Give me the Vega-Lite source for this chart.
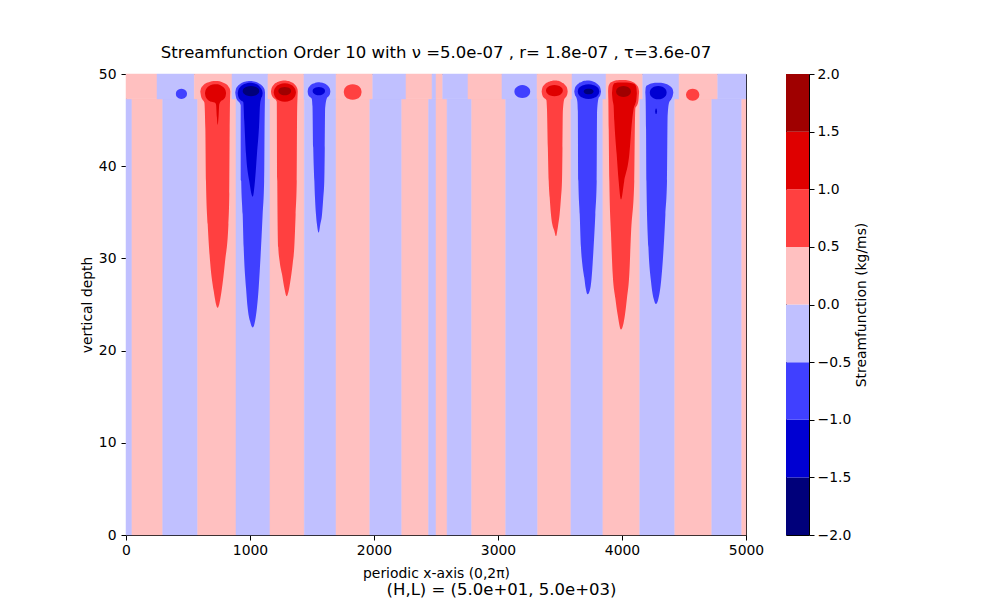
{
  "$schema": "https://vega.github.io/schema/vega-lite/v6.json",
  "background": "white",
  "padding": {"left": 79, "top": 44, "right": 5, "bottom": 5},
  "bounds": "flush",
  "spacing": 40,
  "title": {
    "text": "(H,L) = (5.0e+01, 5.0e+03)",
    "orient": "bottom",
    "anchor": "middle",
    "frame": "bounds",
    "dx": 27,
    "offset": 1,
    "fontSize": 16.5,
    "fontWeight": "normal",
    "color": "black"
  },
  "datasets": {
    "strips": [
      {"x0": 0, "x1": 48, "d0": 0, "d1": 47.3, "band": "n1"},
      {"x0": 48, "x1": 296, "d0": 0, "d1": 47.3, "band": "p1"},
      {"x0": 296, "x1": 578, "d0": 0, "d1": 47.3, "band": "n1"},
      {"x0": 578, "x1": 887, "d0": 0, "d1": 47.3, "band": "p1"},
      {"x0": 887, "x1": 1161, "d0": 0, "d1": 47.3, "band": "n1"},
      {"x0": 1161, "x1": 1438, "d0": 0, "d1": 47.3, "band": "p1"},
      {"x0": 1438, "x1": 1694, "d0": 0, "d1": 47.3, "band": "n1"},
      {"x0": 1694, "x1": 1966, "d0": 0, "d1": 47.3, "band": "p1"},
      {"x0": 1966, "x1": 2224, "d0": 0, "d1": 47.3, "band": "n1"},
      {"x0": 2224, "x1": 2440, "d0": 0, "d1": 47.3, "band": "p1"},
      {"x0": 2440, "x1": 2500, "d0": 0, "d1": 47.3, "band": "n1"},
      {"x0": 2500, "x1": 2589, "d0": 0, "d1": 47.3, "band": "p1"},
      {"x0": 2589, "x1": 2788, "d0": 0, "d1": 47.3, "band": "n1"},
      {"x0": 2788, "x1": 3062, "d0": 0, "d1": 47.3, "band": "p1"},
      {"x0": 3062, "x1": 3320, "d0": 0, "d1": 47.3, "band": "n1"},
      {"x0": 3320, "x1": 3588, "d0": 0, "d1": 47.3, "band": "p1"},
      {"x0": 3588, "x1": 3846, "d0": 0, "d1": 47.3, "band": "n1"},
      {"x0": 3846, "x1": 4143, "d0": 0, "d1": 47.3, "band": "p1"},
      {"x0": 4143, "x1": 4426, "d0": 0, "d1": 47.3, "band": "n1"},
      {"x0": 4426, "x1": 4724, "d0": 0, "d1": 47.3, "band": "p1"},
      {"x0": 4724, "x1": 4966, "d0": 0, "d1": 47.3, "band": "n1"},
      {"x0": 4966, "x1": 5000, "d0": 0, "d1": 47.3, "band": "p1"},
      {"x0": 0, "x1": 250, "d0": 47.3, "d1": 50, "band": "p1"},
      {"x0": 250, "x1": 551, "d0": 47.3, "d1": 50, "band": "n1"},
      {"x0": 551, "x1": 855, "d0": 47.3, "d1": 50, "band": "p1"},
      {"x0": 855, "x1": 1145, "d0": 47.3, "d1": 50, "band": "n1"},
      {"x0": 1145, "x1": 1435, "d0": 47.3, "d1": 50, "band": "p1"},
      {"x0": 1435, "x1": 1694, "d0": 47.3, "d1": 50, "band": "n1"},
      {"x0": 1694, "x1": 1990, "d0": 47.3, "d1": 50, "band": "p1"},
      {"x0": 1990, "x1": 2258, "d0": 47.3, "d1": 50, "band": "n1"},
      {"x0": 2258, "x1": 2468, "d0": 47.3, "d1": 50, "band": "p1"},
      {"x0": 2468, "x1": 2500, "d0": 47.3, "d1": 50, "band": "n1"},
      {"x0": 2500, "x1": 2554, "d0": 47.3, "d1": 50, "band": "p1"},
      {"x0": 2554, "x1": 2758, "d0": 47.3, "d1": 50, "band": "n1"},
      {"x0": 2758, "x1": 3032, "d0": 47.3, "d1": 50, "band": "p1"},
      {"x0": 3032, "x1": 3315, "d0": 47.3, "d1": 50, "band": "n1"},
      {"x0": 3315, "x1": 3597, "d0": 47.3, "d1": 50, "band": "p1"},
      {"x0": 3597, "x1": 3871, "d0": 47.3, "d1": 50, "band": "n1"},
      {"x0": 3871, "x1": 4167, "d0": 47.3, "d1": 50, "band": "p1"},
      {"x0": 4167, "x1": 4460, "d0": 47.3, "d1": 50, "band": "n1"},
      {"x0": 4460, "x1": 4772, "d0": 47.3, "d1": 50, "band": "p1"},
      {"x0": 4772, "x1": 5000, "d0": 47.3, "d1": 50, "band": "n1"}
    ],
    "blobs": [
      {"id": "A2", "band": "p2", "x": 599, "lo": 48.1, "hi": 48.1},
      {"id": "A2", "band": "p2", "x": 605, "lo": 47.6, "hi": 48.46},
      {"id": "A2", "band": "p2", "x": 618, "lo": 47.2, "hi": 48.71},
      {"id": "A2", "band": "p2", "x": 632, "lo": 46.9, "hi": 48.88},
      {"id": "A2", "band": "p2", "x": 640, "lo": 44.0, "hi": 48.96},
      {"id": "A2", "band": "p2", "x": 645, "lo": 38.4, "hi": 49.0},
      {"id": "A2", "band": "p2", "x": 659, "lo": 33.7, "hi": 49.08},
      {"id": "A2", "band": "p2", "x": 678, "lo": 29.7, "hi": 49.17},
      {"id": "A2", "band": "p2", "x": 707, "lo": 26.5, "hi": 49.23},
      {"id": "A2", "band": "p2", "x": 739, "lo": 24.65, "hi": 49.23},
      {"id": "A2", "band": "p2", "x": 771, "lo": 26.5, "hi": 49.13},
      {"id": "A2", "band": "p2", "x": 799, "lo": 29.7, "hi": 48.96},
      {"id": "A2", "band": "p2", "x": 826, "lo": 33.7, "hi": 48.65},
      {"id": "A2", "band": "p2", "x": 833, "lo": 37.0, "hi": 48.5},
      {"id": "A2", "band": "p2", "x": 836, "lo": 44.0, "hi": 48.42},
      {"id": "A2", "band": "p2", "x": 838, "lo": 46.5, "hi": 48.35},
      {"id": "A2", "band": "p2", "x": 841, "lo": 48.1, "hi": 48.1},

      {"id": "A3", "band": "p3", "x": 637, "lo": 47.9, "hi": 47.9},
      {"id": "A3", "band": "p3", "x": 641, "lo": 47.6, "hi": 48.2},
      {"id": "A3", "band": "p3", "x": 654, "lo": 47.3, "hi": 48.5},
      {"id": "A3", "band": "p3", "x": 680, "lo": 47.03, "hi": 48.77},
      {"id": "A3", "band": "p3", "x": 715, "lo": 46.9, "hi": 48.9},
      {"id": "A3", "band": "p3", "x": 726, "lo": 46.7, "hi": 48.9},
      {"id": "A3", "band": "p3", "x": 733, "lo": 45.3, "hi": 48.89},
      {"id": "A3", "band": "p3", "x": 739, "lo": 44.5, "hi": 48.88},
      {"id": "A3", "band": "p3", "x": 746, "lo": 45.3, "hi": 48.86},
      {"id": "A3", "band": "p3", "x": 752, "lo": 46.7, "hi": 48.84},
      {"id": "A3", "band": "p3", "x": 765, "lo": 47.04, "hi": 48.76},
      {"id": "A3", "band": "p3", "x": 790, "lo": 47.3, "hi": 48.5},
      {"id": "A3", "band": "p3", "x": 803, "lo": 47.6, "hi": 48.2},
      {"id": "A3", "band": "p3", "x": 807, "lo": 47.9, "hi": 47.9},

      {"id": "E2", "band": "n2", "x": 402, "lo": 47.85, "hi": 47.85},
      {"id": "E2", "band": "n2", "x": 404, "lo": 47.68, "hi": 48.02},
      {"id": "E2", "band": "n2", "x": 411, "lo": 47.52, "hi": 48.18},
      {"id": "E2", "band": "n2", "x": 424, "lo": 47.37, "hi": 48.33},
      {"id": "E2", "band": "n2", "x": 447, "lo": 47.3, "hi": 48.4},
      {"id": "E2", "band": "n2", "x": 470, "lo": 47.37, "hi": 48.33},
      {"id": "E2", "band": "n2", "x": 483, "lo": 47.52, "hi": 48.18},
      {"id": "E2", "band": "n2", "x": 490, "lo": 47.68, "hi": 48.02},
      {"id": "E2", "band": "n2", "x": 492, "lo": 47.85, "hi": 47.85},

      {"id": "B2", "band": "n2", "x": 881, "lo": 48.0, "hi": 48.0},
      {"id": "B2", "band": "n2", "x": 886, "lo": 47.55, "hi": 48.35},
      {"id": "B2", "band": "n2", "x": 898, "lo": 47.15, "hi": 48.64},
      {"id": "B2", "band": "n2", "x": 915, "lo": 46.9, "hi": 48.86},
      {"id": "B2", "band": "n2", "x": 925, "lo": 46.6, "hi": 48.96},
      {"id": "B2", "band": "n2", "x": 929, "lo": 38.4, "hi": 48.99},
      {"id": "B2", "band": "n2", "x": 941, "lo": 34.8, "hi": 49.07},
      {"id": "B2", "band": "n2", "x": 949, "lo": 31.2, "hi": 49.12},
      {"id": "B2", "band": "n2", "x": 968, "lo": 26.8, "hi": 49.19},
      {"id": "B2", "band": "n2", "x": 981, "lo": 24.65, "hi": 49.22},
      {"id": "B2", "band": "n2", "x": 1000, "lo": 23.2, "hi": 49.24},
      {"id": "B2", "band": "n2", "x": 1022, "lo": 22.5, "hi": 49.22},
      {"id": "B2", "band": "n2", "x": 1042, "lo": 23.3, "hi": 49.17},
      {"id": "B2", "band": "n2", "x": 1056, "lo": 24.65, "hi": 49.1},
      {"id": "B2", "band": "n2", "x": 1070, "lo": 26.8, "hi": 49.01},
      {"id": "B2", "band": "n2", "x": 1089, "lo": 31.2, "hi": 48.84},
      {"id": "B2", "band": "n2", "x": 1102, "lo": 34.8, "hi": 48.67},
      {"id": "B2", "band": "n2", "x": 1114, "lo": 38.4, "hi": 48.42},
      {"id": "B2", "band": "n2", "x": 1118, "lo": 45.0, "hi": 48.28},
      {"id": "B2", "band": "n2", "x": 1121, "lo": 48.0, "hi": 48.0},

      {"id": "B3", "band": "n3", "x": 901, "lo": 47.9, "hi": 47.9},
      {"id": "B3", "band": "n3", "x": 906, "lo": 47.54, "hi": 48.26},
      {"id": "B3", "band": "n3", "x": 921, "lo": 47.21, "hi": 48.59},
      {"id": "B3", "band": "n3", "x": 946, "lo": 46.94, "hi": 48.86},
      {"id": "B3", "band": "n3", "x": 954, "lo": 44.9, "hi": 48.91},
      {"id": "B3", "band": "n3", "x": 968, "lo": 41.3, "hi": 48.98},
      {"id": "B3", "band": "n3", "x": 994, "lo": 38.4, "hi": 49.04},
      {"id": "B3", "band": "n3", "x": 1022, "lo": 36.7, "hi": 49.03},
      {"id": "B3", "band": "n3", "x": 1040, "lo": 38.4, "hi": 48.98},
      {"id": "B3", "band": "n3", "x": 1056, "lo": 41.3, "hi": 48.88},
      {"id": "B3", "band": "n3", "x": 1075, "lo": 44.9, "hi": 48.68},
      {"id": "B3", "band": "n3", "x": 1080, "lo": 46.5, "hi": 48.6},
      {"id": "B3", "band": "n3", "x": 1090, "lo": 47.36, "hi": 48.44},
      {"id": "B3", "band": "n3", "x": 1099, "lo": 47.64, "hi": 48.16},
      {"id": "B3", "band": "n3", "x": 1102, "lo": 47.9, "hi": 47.9},

      {"id": "B4", "band": "n4", "x": 941, "lo": 48.15, "hi": 48.15},
      {"id": "B4", "band": "n4", "x": 944, "lo": 47.98, "hi": 48.32},
      {"id": "B4", "band": "n4", "x": 954, "lo": 47.82, "hi": 48.48},
      {"id": "B4", "band": "n4", "x": 974, "lo": 47.67, "hi": 48.63},
      {"id": "B4", "band": "n4", "x": 1008, "lo": 47.6, "hi": 48.7},
      {"id": "B4", "band": "n4", "x": 1042, "lo": 47.67, "hi": 48.63},
      {"id": "B4", "band": "n4", "x": 1062, "lo": 47.82, "hi": 48.48},
      {"id": "B4", "band": "n4", "x": 1072, "lo": 47.98, "hi": 48.32},
      {"id": "B4", "band": "n4", "x": 1075, "lo": 48.15, "hi": 48.15},

      {"id": "C2", "band": "p2", "x": 1169, "lo": 48.1, "hi": 48.1},
      {"id": "C2", "band": "p2", "x": 1174, "lo": 47.74, "hi": 48.46},
      {"id": "C2", "band": "p2", "x": 1190, "lo": 47.39, "hi": 48.81},
      {"id": "C2", "band": "p2", "x": 1210, "lo": 47.16, "hi": 49.04},
      {"id": "C2", "band": "p2", "x": 1216, "lo": 47.0, "hi": 49.09},
      {"id": "C2", "band": "p2", "x": 1220, "lo": 38.4, "hi": 49.12},
      {"id": "C2", "band": "p2", "x": 1228, "lo": 31.2, "hi": 49.17},
      {"id": "C2", "band": "p2", "x": 1239, "lo": 29.7, "hi": 49.22},
      {"id": "C2", "band": "p2", "x": 1258, "lo": 28.3, "hi": 49.28},
      {"id": "C2", "band": "p2", "x": 1277, "lo": 26.8, "hi": 49.3},
      {"id": "C2", "band": "p2", "x": 1296, "lo": 25.9, "hi": 49.28},
      {"id": "C2", "band": "p2", "x": 1312, "lo": 26.5, "hi": 49.23},
      {"id": "C2", "band": "p2", "x": 1325, "lo": 27.5, "hi": 49.16},
      {"id": "C2", "band": "p2", "x": 1344, "lo": 29.4, "hi": 49.04},
      {"id": "C2", "band": "p2", "x": 1357, "lo": 31.2, "hi": 48.91},
      {"id": "C2", "band": "p2", "x": 1368, "lo": 34.8, "hi": 48.75},
      {"id": "C2", "band": "p2", "x": 1377, "lo": 38.4, "hi": 48.55},
      {"id": "C2", "band": "p2", "x": 1380, "lo": 46.0, "hi": 48.46},
      {"id": "C2", "band": "p2", "x": 1383, "lo": 47.4, "hi": 48.35},
      {"id": "C2", "band": "p2", "x": 1385, "lo": 48.1, "hi": 48.1},

      {"id": "C3", "band": "p3", "x": 1191, "lo": 48.0, "hi": 48.0},
      {"id": "C3", "band": "p3", "x": 1196, "lo": 47.69, "hi": 48.31},
      {"id": "C3", "band": "p3", "x": 1209, "lo": 47.4, "hi": 48.6},
      {"id": "C3", "band": "p3", "x": 1236, "lo": 47.13, "hi": 48.87},
      {"id": "C3", "band": "p3", "x": 1281, "lo": 47.0, "hi": 49.0},
      {"id": "C3", "band": "p3", "x": 1326, "lo": 47.13, "hi": 48.87},
      {"id": "C3", "band": "p3", "x": 1353, "lo": 47.4, "hi": 48.6},
      {"id": "C3", "band": "p3", "x": 1366, "lo": 47.69, "hi": 48.31},
      {"id": "C3", "band": "p3", "x": 1371, "lo": 48.0, "hi": 48.0},

      {"id": "C4", "band": "p4", "x": 1228, "lo": 48.15, "hi": 48.15},
      {"id": "C4", "band": "p4", "x": 1231, "lo": 48.01, "hi": 48.29},
      {"id": "C4", "band": "p4", "x": 1238, "lo": 47.88, "hi": 48.42},
      {"id": "C4", "band": "p4", "x": 1254, "lo": 47.76, "hi": 48.54},
      {"id": "C4", "band": "p4", "x": 1280, "lo": 47.7, "hi": 48.6},
      {"id": "C4", "band": "p4", "x": 1306, "lo": 47.76, "hi": 48.54},
      {"id": "C4", "band": "p4", "x": 1322, "lo": 47.88, "hi": 48.42},
      {"id": "C4", "band": "p4", "x": 1329, "lo": 48.01, "hi": 48.29},
      {"id": "C4", "band": "p4", "x": 1332, "lo": 48.15, "hi": 48.15},

      {"id": "D2", "band": "n2", "x": 1465, "lo": 48.1, "hi": 48.1},
      {"id": "D2", "band": "n2", "x": 1469, "lo": 47.78, "hi": 48.43},
      {"id": "D2", "band": "n2", "x": 1481, "lo": 47.52, "hi": 48.68},
      {"id": "D2", "band": "n2", "x": 1498, "lo": 47.32, "hi": 48.88},
      {"id": "D2", "band": "n2", "x": 1504, "lo": 46.5, "hi": 48.93},
      {"id": "D2", "band": "n2", "x": 1510, "lo": 42.0, "hi": 48.96},
      {"id": "D2", "band": "n2", "x": 1519, "lo": 38.4, "hi": 49.0},
      {"id": "D2", "band": "n2", "x": 1524, "lo": 36.6, "hi": 49.03},
      {"id": "D2", "band": "n2", "x": 1532, "lo": 34.8, "hi": 49.07},
      {"id": "D2", "band": "n2", "x": 1540, "lo": 33.7, "hi": 49.09},
      {"id": "D2", "band": "n2", "x": 1554, "lo": 32.8, "hi": 49.1},
      {"id": "D2", "band": "n2", "x": 1567, "lo": 33.7, "hi": 49.09},
      {"id": "D2", "band": "n2", "x": 1581, "lo": 34.8, "hi": 49.06},
      {"id": "D2", "band": "n2", "x": 1591, "lo": 36.6, "hi": 49.03},
      {"id": "D2", "band": "n2", "x": 1599, "lo": 38.4, "hi": 48.98},
      {"id": "D2", "band": "n2", "x": 1603, "lo": 42.0, "hi": 48.96},
      {"id": "D2", "band": "n2", "x": 1606, "lo": 46.3, "hi": 48.94},
      {"id": "D2", "band": "n2", "x": 1620, "lo": 47.38, "hi": 48.82},
      {"id": "D2", "band": "n2", "x": 1636, "lo": 47.61, "hi": 48.59},
      {"id": "D2", "band": "n2", "x": 1645, "lo": 47.85, "hi": 48.35},
      {"id": "D2", "band": "n2", "x": 1648, "lo": 48.1, "hi": 48.1},

      {"id": "D3", "band": "n3", "x": 1505, "lo": 48.15, "hi": 48.15},
      {"id": "D3", "band": "n3", "x": 1507, "lo": 48.01, "hi": 48.29},
      {"id": "D3", "band": "n3", "x": 1515, "lo": 47.88, "hi": 48.42},
      {"id": "D3", "band": "n3", "x": 1530, "lo": 47.76, "hi": 48.54},
      {"id": "D3", "band": "n3", "x": 1555, "lo": 47.7, "hi": 48.6},
      {"id": "D3", "band": "n3", "x": 1580, "lo": 47.76, "hi": 48.54},
      {"id": "D3", "band": "n3", "x": 1595, "lo": 47.88, "hi": 48.42},
      {"id": "D3", "band": "n3", "x": 1603, "lo": 48.01, "hi": 48.29},
      {"id": "D3", "band": "n3", "x": 1605, "lo": 48.15, "hi": 48.15},

      {"id": "F2", "band": "p2", "x": 1756, "lo": 48.05, "hi": 48.05},
      {"id": "F2", "band": "p2", "x": 1760, "lo": 47.79, "hi": 48.32},
      {"id": "F2", "band": "p2", "x": 1770, "lo": 47.54, "hi": 48.56},
      {"id": "F2", "band": "p2", "x": 1792, "lo": 47.31, "hi": 48.79},
      {"id": "F2", "band": "p2", "x": 1828, "lo": 47.2, "hi": 48.9},
      {"id": "F2", "band": "p2", "x": 1864, "lo": 47.31, "hi": 48.79},
      {"id": "F2", "band": "p2", "x": 1886, "lo": 47.54, "hi": 48.56},
      {"id": "F2", "band": "p2", "x": 1896, "lo": 47.79, "hi": 48.32},
      {"id": "F2", "band": "p2", "x": 1900, "lo": 48.05, "hi": 48.05},

      {"id": "G2", "band": "n2", "x": 3132, "lo": 48.1, "hi": 48.1},
      {"id": "G2", "band": "n2", "x": 3135, "lo": 47.88, "hi": 48.32},
      {"id": "G2", "band": "n2", "x": 3145, "lo": 47.68, "hi": 48.52},
      {"id": "G2", "band": "n2", "x": 3164, "lo": 47.49, "hi": 48.71},
      {"id": "G2", "band": "n2", "x": 3196, "lo": 47.4, "hi": 48.8},
      {"id": "G2", "band": "n2", "x": 3228, "lo": 47.49, "hi": 48.71},
      {"id": "G2", "band": "n2", "x": 3247, "lo": 47.68, "hi": 48.52},
      {"id": "G2", "band": "n2", "x": 3257, "lo": 47.88, "hi": 48.32},
      {"id": "G2", "band": "n2", "x": 3260, "lo": 48.1, "hi": 48.1},

      {"id": "H2", "band": "p2", "x": 3352, "lo": 48.1, "hi": 48.1},
      {"id": "H2", "band": "p2", "x": 3357, "lo": 47.73, "hi": 48.47},
      {"id": "H2", "band": "p2", "x": 3372, "lo": 47.4, "hi": 48.8},
      {"id": "H2", "band": "p2", "x": 3390, "lo": 47.18, "hi": 49.02},
      {"id": "H2", "band": "p2", "x": 3395, "lo": 46.2, "hi": 49.07},
      {"id": "H2", "band": "p2", "x": 3402, "lo": 42.0, "hi": 49.11},
      {"id": "H2", "band": "p2", "x": 3409, "lo": 38.4, "hi": 49.15},
      {"id": "H2", "band": "p2", "x": 3417, "lo": 36.6, "hi": 49.18},
      {"id": "H2", "band": "p2", "x": 3427, "lo": 34.8, "hi": 49.24},
      {"id": "H2", "band": "p2", "x": 3438, "lo": 33.7, "hi": 49.28},
      {"id": "H2", "band": "p2", "x": 3454, "lo": 33.0, "hi": 49.3},
      {"id": "H2", "band": "p2", "x": 3468, "lo": 32.4, "hi": 49.3},
      {"id": "H2", "band": "p2", "x": 3478, "lo": 33.0, "hi": 49.28},
      {"id": "H2", "band": "p2", "x": 3486, "lo": 33.7, "hi": 49.26},
      {"id": "H2", "band": "p2", "x": 3497, "lo": 34.8, "hi": 49.21},
      {"id": "H2", "band": "p2", "x": 3508, "lo": 36.6, "hi": 49.14},
      {"id": "H2", "band": "p2", "x": 3516, "lo": 38.4, "hi": 49.07},
      {"id": "H2", "band": "p2", "x": 3520, "lo": 42.0, "hi": 49.03},
      {"id": "H2", "band": "p2", "x": 3523, "lo": 46.0, "hi": 49.03},
      {"id": "H2", "band": "p2", "x": 3535, "lo": 47.3, "hi": 48.9},
      {"id": "H2", "band": "p2", "x": 3550, "lo": 47.54, "hi": 48.66},
      {"id": "H2", "band": "p2", "x": 3558, "lo": 47.77, "hi": 48.43},
      {"id": "H2", "band": "p2", "x": 3562, "lo": 48.1, "hi": 48.1},

      {"id": "H3", "band": "p3", "x": 3387, "lo": 48.2, "hi": 48.2},
      {"id": "H3", "band": "p3", "x": 3390, "lo": 48.01, "hi": 48.39},
      {"id": "H3", "band": "p3", "x": 3401, "lo": 47.84, "hi": 48.56},
      {"id": "H3", "band": "p3", "x": 3421, "lo": 47.68, "hi": 48.72},
      {"id": "H3", "band": "p3", "x": 3455, "lo": 47.6, "hi": 48.8},
      {"id": "H3", "band": "p3", "x": 3489, "lo": 47.68, "hi": 48.72},
      {"id": "H3", "band": "p3", "x": 3509, "lo": 47.84, "hi": 48.56},
      {"id": "H3", "band": "p3", "x": 3520, "lo": 48.01, "hi": 48.39},
      {"id": "H3", "band": "p3", "x": 3523, "lo": 48.2, "hi": 48.2},

      {"id": "I2", "band": "n2", "x": 3615, "lo": 48.1, "hi": 48.1},
      {"id": "I2", "band": "n2", "x": 3620, "lo": 47.74, "hi": 48.46},
      {"id": "I2", "band": "n2", "x": 3632, "lo": 47.45, "hi": 48.75},
      {"id": "I2", "band": "n2", "x": 3640, "lo": 47.0, "hi": 48.87},
      {"id": "I2", "band": "n2", "x": 3644, "lo": 46.0, "hi": 48.92},
      {"id": "I2", "band": "n2", "x": 3648, "lo": 38.4, "hi": 48.95},
      {"id": "I2", "band": "n2", "x": 3659, "lo": 34.8, "hi": 49.07},
      {"id": "I2", "band": "n2", "x": 3669, "lo": 31.2, "hi": 49.1},
      {"id": "I2", "band": "n2", "x": 3680, "lo": 29.4, "hi": 49.19},
      {"id": "I2", "band": "n2", "x": 3696, "lo": 27.9, "hi": 49.26},
      {"id": "I2", "band": "n2", "x": 3707, "lo": 26.8, "hi": 49.28},
      {"id": "I2", "band": "n2", "x": 3723, "lo": 26.1, "hi": 49.3},
      {"id": "I2", "band": "n2", "x": 3745, "lo": 26.8, "hi": 49.28},
      {"id": "I2", "band": "n2", "x": 3755, "lo": 27.9, "hi": 49.25},
      {"id": "I2", "band": "n2", "x": 3763, "lo": 29.4, "hi": 49.21},
      {"id": "I2", "band": "n2", "x": 3771, "lo": 31.2, "hi": 49.16},
      {"id": "I2", "band": "n2", "x": 3785, "lo": 34.8, "hi": 49.08},
      {"id": "I2", "band": "n2", "x": 3796, "lo": 38.4, "hi": 48.98},
      {"id": "I2", "band": "n2", "x": 3799, "lo": 46.0, "hi": 48.95},
      {"id": "I2", "band": "n2", "x": 3812, "lo": 47.42, "hi": 48.78},
      {"id": "I2", "band": "n2", "x": 3824, "lo": 47.67, "hi": 48.53},
      {"id": "I2", "band": "n2", "x": 3831, "lo": 48.1, "hi": 48.1},

      {"id": "I3", "band": "n3", "x": 3643, "lo": 48.1, "hi": 48.1},
      {"id": "I3", "band": "n3", "x": 3647, "lo": 47.85, "hi": 48.35},
      {"id": "I3", "band": "n3", "x": 3660, "lo": 47.62, "hi": 48.58},
      {"id": "I3", "band": "n3", "x": 3687, "lo": 47.41, "hi": 48.79},
      {"id": "I3", "band": "n3", "x": 3730, "lo": 47.3, "hi": 48.9},
      {"id": "I3", "band": "n3", "x": 3773, "lo": 47.41, "hi": 48.79},
      {"id": "I3", "band": "n3", "x": 3800, "lo": 47.62, "hi": 48.58},
      {"id": "I3", "band": "n3", "x": 3813, "lo": 47.85, "hi": 48.35},
      {"id": "I3", "band": "n3", "x": 3817, "lo": 48.1, "hi": 48.1},

      {"id": "I4", "band": "n4", "x": 3691, "lo": 48.1, "hi": 48.1},
      {"id": "I4", "band": "n4", "x": 3693, "lo": 48.01, "hi": 48.19},
      {"id": "I4", "band": "n4", "x": 3699, "lo": 47.92, "hi": 48.28},
      {"id": "I4", "band": "n4", "x": 3711, "lo": 47.84, "hi": 48.36},
      {"id": "I4", "band": "n4", "x": 3731, "lo": 47.8, "hi": 48.4},
      {"id": "I4", "band": "n4", "x": 3751, "lo": 47.84, "hi": 48.36},
      {"id": "I4", "band": "n4", "x": 3763, "lo": 47.92, "hi": 48.28},
      {"id": "I4", "band": "n4", "x": 3769, "lo": 48.01, "hi": 48.19},
      {"id": "I4", "band": "n4", "x": 3771, "lo": 48.1, "hi": 48.1},

      {"id": "J2", "band": "p2", "x": 3888, "lo": 48.1, "hi": 48.1},
      {"id": "J2", "band": "p2", "x": 3890, "lo": 47.2, "hi": 48.55},
      {"id": "J2", "band": "p2", "x": 3893, "lo": 44.0, "hi": 48.75},
      {"id": "J2", "band": "p2", "x": 3898, "lo": 38.4, "hi": 48.9},
      {"id": "J2", "band": "p2", "x": 3911, "lo": 32.8, "hi": 49.1},
      {"id": "J2", "band": "p2", "x": 3925, "lo": 28.3, "hi": 49.2},
      {"id": "J2", "band": "p2", "x": 3946, "lo": 25.7, "hi": 49.3},
      {"id": "J2", "band": "p2", "x": 3965, "lo": 23.9, "hi": 49.33},
      {"id": "J2", "band": "p2", "x": 3992, "lo": 22.3, "hi": 49.35},
      {"id": "J2", "band": "p2", "x": 4024, "lo": 23.9, "hi": 49.35},
      {"id": "J2", "band": "p2", "x": 4040, "lo": 25.7, "hi": 49.33},
      {"id": "J2", "band": "p2", "x": 4059, "lo": 28.3, "hi": 49.28},
      {"id": "J2", "band": "p2", "x": 4073, "lo": 32.8, "hi": 49.22},
      {"id": "J2", "band": "p2", "x": 4099, "lo": 38.4, "hi": 49.05},
      {"id": "J2", "band": "p2", "x": 4104, "lo": 44.5, "hi": 49.0},
      {"id": "J2", "band": "p2", "x": 4108, "lo": 46.3, "hi": 48.95},
      {"id": "J2", "band": "p2", "x": 4122, "lo": 46.6, "hi": 48.75},
      {"id": "J2", "band": "p2", "x": 4132, "lo": 47.1, "hi": 48.5},
      {"id": "J2", "band": "p2", "x": 4138, "lo": 48.1, "hi": 48.1},

      {"id": "J3", "band": "p3", "x": 3919, "lo": 47.9, "hi": 47.9},
      {"id": "J3", "band": "p3", "x": 3924, "lo": 47.2, "hi": 48.6},
      {"id": "J3", "band": "p3", "x": 3932, "lo": 46.6, "hi": 48.9},
      {"id": "J3", "band": "p3", "x": 3938, "lo": 44.9, "hi": 49.0},
      {"id": "J3", "band": "p3", "x": 3957, "lo": 41.3, "hi": 49.05},
      {"id": "J3", "band": "p3", "x": 3973, "lo": 38.4, "hi": 49.07},
      {"id": "J3", "band": "p3", "x": 3992, "lo": 36.4, "hi": 49.08},
      {"id": "J3", "band": "p3", "x": 4018, "lo": 38.4, "hi": 49.08},
      {"id": "J3", "band": "p3", "x": 4059, "lo": 41.3, "hi": 49.05},
      {"id": "J3", "band": "p3", "x": 4081, "lo": 44.9, "hi": 49.0},
      {"id": "J3", "band": "p3", "x": 4095, "lo": 46.3, "hi": 48.95},
      {"id": "J3", "band": "p3", "x": 4108, "lo": 46.8, "hi": 48.8},
      {"id": "J3", "band": "p3", "x": 4116, "lo": 47.3, "hi": 48.5},
      {"id": "J3", "band": "p3", "x": 4120, "lo": 47.9, "hi": 47.9},

      {"id": "J4", "band": "p4", "x": 3952, "lo": 48.1, "hi": 48.1},
      {"id": "J4", "band": "p4", "x": 3955, "lo": 47.91, "hi": 48.29},
      {"id": "J4", "band": "p4", "x": 3964, "lo": 47.74, "hi": 48.46},
      {"id": "J4", "band": "p4", "x": 3982, "lo": 47.58, "hi": 48.62},
      {"id": "J4", "band": "p4", "x": 4012, "lo": 47.5, "hi": 48.7},
      {"id": "J4", "band": "p4", "x": 4042, "lo": 47.58, "hi": 48.62},
      {"id": "J4", "band": "p4", "x": 4060, "lo": 47.74, "hi": 48.46},
      {"id": "J4", "band": "p4", "x": 4069, "lo": 47.91, "hi": 48.29},
      {"id": "J4", "band": "p4", "x": 4072, "lo": 48.1, "hi": 48.1},

      {"id": "K2", "band": "n2", "x": 4188, "lo": 48.0, "hi": 48.0},
      {"id": "K2", "band": "n2", "x": 4191, "lo": 47.0, "hi": 48.5},
      {"id": "K2", "band": "n2", "x": 4194, "lo": 44.0, "hi": 48.65},
      {"id": "K2", "band": "n2", "x": 4197, "lo": 38.4, "hi": 48.72},
      {"id": "K2", "band": "n2", "x": 4213, "lo": 31.2, "hi": 48.83},
      {"id": "K2", "band": "n2", "x": 4234, "lo": 27.5, "hi": 48.96},
      {"id": "K2", "band": "n2", "x": 4256, "lo": 25.6, "hi": 49.03},
      {"id": "K2", "band": "n2", "x": 4274, "lo": 25.05, "hi": 49.05},
      {"id": "K2", "band": "n2", "x": 4293, "lo": 25.6, "hi": 49.06},
      {"id": "K2", "band": "n2", "x": 4315, "lo": 27.5, "hi": 49.05},
      {"id": "K2", "band": "n2", "x": 4336, "lo": 31.2, "hi": 49.0},
      {"id": "K2", "band": "n2", "x": 4350, "lo": 34.8, "hi": 48.95},
      {"id": "K2", "band": "n2", "x": 4363, "lo": 38.4, "hi": 48.88},
      {"id": "K2", "band": "n2", "x": 4368, "lo": 45.5, "hi": 48.85},
      {"id": "K2", "band": "n2", "x": 4380, "lo": 46.9, "hi": 48.75},
      {"id": "K2", "band": "n2", "x": 4398, "lo": 47.3, "hi": 48.55},
      {"id": "K2", "band": "n2", "x": 4410, "lo": 47.7, "hi": 48.3},
      {"id": "K2", "band": "n2", "x": 4414, "lo": 48.0, "hi": 48.0},

      {"id": "K3", "band": "n3", "x": 4224, "lo": 47.98, "hi": 47.98},
      {"id": "K3", "band": "n3", "x": 4227, "lo": 47.75, "hi": 48.21},
      {"id": "K3", "band": "n3", "x": 4238, "lo": 47.54, "hi": 48.42},
      {"id": "K3", "band": "n3", "x": 4258, "lo": 47.35, "hi": 48.61},
      {"id": "K3", "band": "n3", "x": 4292, "lo": 47.25, "hi": 48.71},
      {"id": "K3", "band": "n3", "x": 4326, "lo": 47.35, "hi": 48.61},
      {"id": "K3", "band": "n3", "x": 4346, "lo": 47.54, "hi": 48.42},
      {"id": "K3", "band": "n3", "x": 4357, "lo": 47.75, "hi": 48.21},
      {"id": "K3", "band": "n3", "x": 4360, "lo": 47.98, "hi": 47.98},

      {"id": "K3b", "band": "n3", "x": 4267, "lo": 45.95, "hi": 45.95},
      {"id": "K3b", "band": "n3", "x": 4271, "lo": 45.7, "hi": 46.2},
      {"id": "K3b", "band": "n3", "x": 4275, "lo": 45.65, "hi": 46.25},
      {"id": "K3b", "band": "n3", "x": 4279, "lo": 45.7, "hi": 46.2},
      {"id": "K3b", "band": "n3", "x": 4283, "lo": 45.95, "hi": 45.95},

      {"id": "L2", "band": "p2", "x": 4516, "lo": 47.75, "hi": 47.75},
      {"id": "L2", "band": "p2", "x": 4519, "lo": 47.55, "hi": 47.95},
      {"id": "L2", "band": "p2", "x": 4527, "lo": 47.36, "hi": 48.14},
      {"id": "L2", "band": "p2", "x": 4543, "lo": 47.19, "hi": 48.31},
      {"id": "L2", "band": "p2", "x": 4570, "lo": 47.1, "hi": 48.4},
      {"id": "L2", "band": "p2", "x": 4597, "lo": 47.19, "hi": 48.31},
      {"id": "L2", "band": "p2", "x": 4613, "lo": 47.36, "hi": 48.14},
      {"id": "L2", "band": "p2", "x": 4621, "lo": 47.55, "hi": 47.95},
      {"id": "L2", "band": "p2", "x": 4624, "lo": 47.75, "hi": 47.75}
    ],
    "cbar": [
      {"lo": -2.0, "hi": -1.5, "band": "n4"},
      {"lo": -1.5, "hi": -1.0, "band": "n3"},
      {"lo": -1.0, "hi": -0.5, "band": "n2"},
      {"lo": -0.5, "hi": 0.0, "band": "n1"},
      {"lo": 0.0, "hi": 0.5, "band": "p1"},
      {"lo": 0.5, "hi": 1.0, "band": "p2"},
      {"lo": 1.0, "hi": 1.5, "band": "p3"},
      {"lo": 1.5, "hi": 2.0, "band": "p4"}
    ]
  },
  "hconcat": [
    {
      "width": 620,
      "height": 461,
      "title": {
        "text": "Streamfunction Order 10 with ν =5.0e-07 , r= 1.8e-07 , τ=3.6e-07",
        "fontSize": 16.5,
        "fontWeight": "normal",
        "color": "black",
        "offset": 6
      },
      "layer": [
        {
          "data": {"name": "strips"},
          "mark": {"type": "rect", "strokeWidth": 0.5},
          "encoding": {
            "x": {
              "field": "x0",
              "type": "quantitative",
              "scale": {"domain": [0, 5000], "nice": false, "zero": false},
              "axis": {
                "values": [0, 1000, 2000, 3000, 4000, 5000],
                "format": "d",
                "title": "periodic x-axis (0,2π)",
                "titlePadding": 10,
                "labelFlush": false
              }
            },
            "x2": {"field": "x1"},
            "y": {
              "field": "d0",
              "type": "quantitative",
              "scale": {"domain": [0, 50], "nice": false, "zero": false},
              "axis": {
                "values": [0, 10, 20, 30, 40, 50],
                "title": "vertical depth",
                "labelPadding": 5,
                "titlePadding": 4,
                "labelFlush": false
              }
            },
            "y2": {"field": "d1"},
            "color": {
              "field": "band",
              "type": "nominal",
              "scale": {
                "domain": ["n4", "n3", "n2", "n1", "p1", "p2", "p3", "p4"],
                "range": ["#00007a", "#0000d2", "#4040ff", "#c0c0ff", "#ffc0c0", "#ff4040", "#df0000", "#9f0000"]
              },
              "legend": null
            },
            "stroke": {
              "field": "band",
              "type": "nominal",
              "scale": {
                "domain": ["n4", "n3", "n2", "n1", "p1", "p2", "p3", "p4"],
                "range": ["#00007a", "#0000d2", "#4040ff", "#c0c0ff", "#ffc0c0", "#ff4040", "#df0000", "#9f0000"]
              },
              "legend": null
            }
          }
        },
        {
          "data": {"name": "blobs"},
          "transform": [{"filter": {"field": "band", "oneOf": ["n2", "p2"]}}],
          "mark": {"type": "area", "interpolate": "monotone", "opacity": 1},
          "encoding": {
            "x": {"field": "x", "type": "quantitative"},
            "y": {"field": "lo", "type": "quantitative", "stack": null},
            "y2": {"field": "hi"},
            "detail": {"field": "id"},
            "color": {
              "field": "band",
              "type": "nominal",
              "scale": {
                "domain": ["n4", "n3", "n2", "n1", "p1", "p2", "p3", "p4"],
                "range": ["#00007a", "#0000d2", "#4040ff", "#c0c0ff", "#ffc0c0", "#ff4040", "#df0000", "#9f0000"]
              },
              "legend": null
            }
          }
        },
        {
          "data": {"name": "blobs"},
          "transform": [{"filter": {"field": "band", "oneOf": ["n3", "p3"]}}],
          "mark": {"type": "area", "interpolate": "monotone", "opacity": 1},
          "encoding": {
            "x": {"field": "x", "type": "quantitative"},
            "y": {"field": "lo", "type": "quantitative", "stack": null},
            "y2": {"field": "hi"},
            "detail": {"field": "id"},
            "color": {
              "field": "band",
              "type": "nominal",
              "scale": {
                "domain": ["n4", "n3", "n2", "n1", "p1", "p2", "p3", "p4"],
                "range": ["#00007a", "#0000d2", "#4040ff", "#c0c0ff", "#ffc0c0", "#ff4040", "#df0000", "#9f0000"]
              },
              "legend": null
            }
          }
        },
        {
          "data": {"name": "blobs"},
          "transform": [{"filter": {"field": "band", "oneOf": ["n4", "p4"]}}],
          "mark": {"type": "area", "interpolate": "monotone", "opacity": 1},
          "encoding": {
            "x": {"field": "x", "type": "quantitative"},
            "y": {"field": "lo", "type": "quantitative", "stack": null},
            "y2": {"field": "hi"},
            "detail": {"field": "id"},
            "color": {
              "field": "band",
              "type": "nominal",
              "scale": {
                "domain": ["n4", "n3", "n2", "n1", "p1", "p2", "p3", "p4"],
                "range": ["#00007a", "#0000d2", "#4040ff", "#c0c0ff", "#ffc0c0", "#ff4040", "#df0000", "#9f0000"]
              },
              "legend": null
            }
          }
        }
      ]
    },
    {
      "width": 23,
      "height": 461,
      "data": {"name": "cbar"},
      "mark": {"type": "rect"},
      "encoding": {
        "x": {"value": 0},
        "x2": {"value": 23},
        "y": {
          "field": "lo",
          "type": "quantitative",
          "scale": {"domain": [-2, 2], "nice": false, "zero": false},
          "axis": {
            "orient": "right",
            "values": [-2, -1.5, -1, -0.5, 0, 0.5, 1, 1.5, 2],
            "format": ".1f",
            "title": "Streamfunction (kg/ms)",
            "titleAngle": -90,
            "titleBaseline": "top",
            "titlePadding": 4,
            "labelFlush": false
          }
        },
        "y2": {"field": "hi"},
        "color": {
          "field": "band",
          "type": "nominal",
          "scale": {
            "domain": ["n4", "n3", "n2", "n1", "p1", "p2", "p3", "p4"],
            "range": ["#00007a", "#0000d2", "#4040ff", "#c0c0ff", "#ffc0c0", "#ff4040", "#df0000", "#9f0000"]
          },
          "legend": null
        }
      }
    }
  ],
  "config": {
    "font": "DejaVu Sans",
    "view": {"stroke": "black", "strokeWidth": 1},
    "axis": {
      "domain": false,
      "grid": false,
      "labelColor": "black",
      "titleColor": "black",
      "tickColor": "black",
      "tickSize": 5,
      "tickWidth": 1,
      "labelPadding": 3,
      "labelFontSize": 13.9,
      "titleFontSize": 13.9,
      "titleFontWeight": "normal"
    }
  }
}
